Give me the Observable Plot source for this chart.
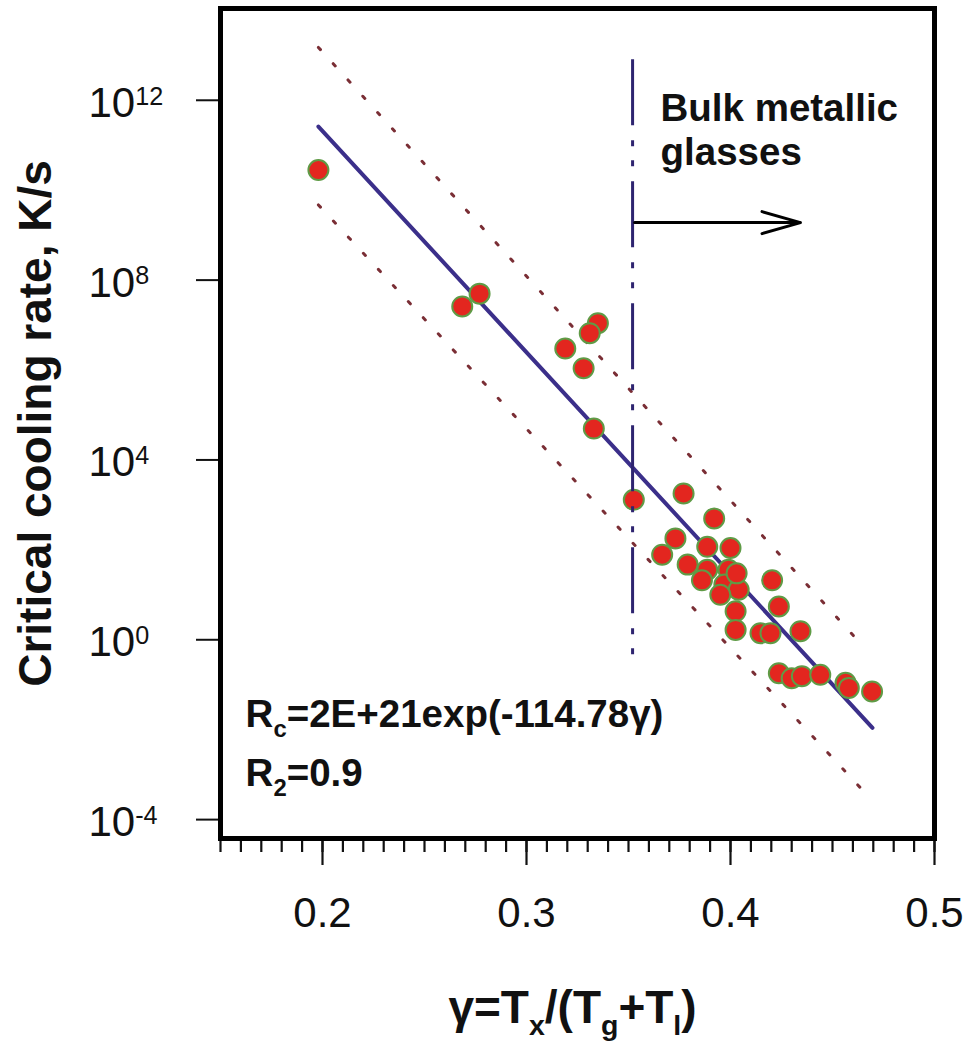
<!DOCTYPE html>
<html><head><meta charset="utf-8">
<script src="https://cdn.jsdelivr.net/npm/d3@7"></script>
<script src="https://cdn.jsdelivr.net/npm/@observablehq/plot@0.6"></script>
<style>
html,body{margin:0;padding:0;background:#fff;}
#chart svg{display:block;}
</style></head><body><div id="chart"></div>
<script>
// ---- data ----
const gamma = [0.198, 0.2685, 0.277, 0.319, 0.335, 0.331, 0.328, 0.333, 0.3526, 0.377,
  0.392, 0.373, 0.3665, 0.379, 0.3886, 0.400, 0.3886, 0.399, 0.386, 0.397,
  0.404, 0.395, 0.403, 0.4025, 0.4025, 0.4147, 0.4196, 0.4204, 0.4237, 0.4343,
  0.4237, 0.430, 0.435, 0.444, 0.4564, 0.458, 0.4694];
const rc = [2.8e10, 2.6e7, 5.0e7, 3.0e6, 1.1e7, 6.6e6, 1.1e6, 5.0e4, 1.3e3, 1.8e3,
  5.0e2, 1.8e2, 78, 47, 117, 110, 36, 36, 21, 17,
  13, 10, 30, 4.3, 1.66, 1.4, 1.4, 21, 5.5, 1.55,
  0.18, 0.14, 0.155, 0.166, 0.11, 0.085, 0.071];
const fitGamma = [0.198, 0.4696];
const fitRc = [2.6e11, 1.1e-2];
const upperGamma = [0.198, 0.4652];
const upperRc = [1.5e13, 0.70];
const lowerGamma = [0.198, 0.4637];
const lowerRc = [4.7e9, 5.1e-4];
const bmgGamma = [0.352];
const bmgRcRange = [8e12, 0.31];
const arrowGamma = [0.353, 0.4343];
const arrowRc = [1.9e9];
const xMajorTicks = [0.2, 0.3, 0.4, 0.5];
const xMinorTicks = [0.15,0.16,0.17,0.18,0.19,0.2,0.21,0.22,0.23,0.24,0.25,0.26,0.27,0.28,0.29,0.3,
  0.31,0.32,0.33,0.34,0.35,0.36,0.37,0.38,0.39,0.4,0.41,0.42,0.43,0.44,0.45,0.46,0.47,0.48,0.49,0.5];
const yTicks = [1e-4, 1, 1e4, 1e8, 1e12];
const yTickLabels = ["10^{-4}", "10^{0}", "10^{4}", "10^{8}", "10^{12}"];
const bulkLabel = ["Bulk metallic\nglasses"];
const bulkPos = [0.3657, 3.6e10];
const eqLabels = ["R_{c}=2E+21exp(-114.78γ)", "R_{2}=0.9"];
const eqPos = [[0.1623, 0.01167], [0.1623, 5.7e-4]];
const yTitle = "Critical cooling rate, K/s";
const xTitle = "γ=T_{x}/(T_{g}+T_{l})";

// ---- tables ----
const points = gamma.map((g, i) => ({g, rc: rc[i]}));
const fit = fitGamma.map((g, i) => ({g, rc: fitRc[i]}));
const upper = upperGamma.map((g, i) => ({g, rc: upperRc[i]}));
const lower = lowerGamma.map((g, i) => ({g, rc: lowerRc[i]}));
const bmg = bmgGamma.map(g => ({g, top: bmgRcRange[0], bottom: bmgRcRange[1]}));
const arrow = [{x1: arrowGamma[0], x2: arrowGamma[1], y: arrowRc[0]}];
const yTickData = yTicks.map((v, i) => ({v, label: yTickLabels[i]}));
const eqData = eqLabels.map((t, i) => ({t, g: eqPos[i][0], rc: eqPos[i][1]}));

const font = "Liberation Sans, Arial, Helvetica, sans-serif";

const chart = Plot.plot({
  width: 972, height: 1046,
  marginLeft: 220, marginRight: 38, marginTop: 8, marginBottom: 208,
  style: {fontFamily: font, background: "white", color: "#111"},
  x: {domain: [0.15, 0.5]},
  y: {type: "log", domain: [3.8e-5, 1.1e14]},
  marks: [
    Plot.axisX(xMinorTicks, {tickSize: 14, tickFormat: () => "", strokeWidth: 2.2, label: null}),
    Plot.axisX(xMajorTicks, {tickSize: 27, tickFormat: () => "", strokeWidth: 2.2, label: null}),
    Plot.axisY(yTicks, {tickSize: 24, tickFormat: () => "", strokeWidth: 2, label: null}),
    Plot.line(upper, {x: "g", y: "rc", stroke: "#7a2e35", strokeWidth: 3, strokeDasharray: "3,19"}),
    Plot.line(lower, {x: "g", y: "rc", stroke: "#7a2e35", strokeWidth: 3, strokeDasharray: "3,19"}),
    Plot.line(fit, {x: "g", y: "rc", stroke: "#3b2f8a", strokeWidth: 4}),
    Plot.dot(points, {x: "g", y: "rc", r: 10, fill: "#e3261f", stroke: "#5f9b46", strokeWidth: 2}),
    Plot.ruleX(bmg, {x: "g", y1: "top", y2: "bottom", stroke: "#2e2470", strokeWidth: 3,
      strokeDasharray: "66,15,6,14,6,15"}),
    Plot.arrow(arrow, {x1: "x1", x2: "x2", y1: "y", y2: "y", stroke: "black", strokeWidth: 3,
      headLength: 20, headAngle: 32}),
    Plot.text(bulkLabel, {x: () => bulkPos[0], y: () => bulkPos[1], text: d => d, textAnchor: "start",
      lineAnchor: "bottom", lineHeight: 1.14, fontSize: 38.5, fontWeight: "bold", fill: "#111"}),
    Plot.text(eqData, {x: "g", y: "rc", text: "t", textAnchor: "start", lineAnchor: "bottom",
      fontSize: 38.5, fontWeight: "bold", fill: "#111"}),
    Plot.text(yTickData, {y: "v", text: "label", frameAnchor: "left", dx: -132, dy: 3,
      textAnchor: "start", fontSize: 42, fill: "#111"}),
    Plot.text(xMajorTicks, {x: d => d, text: d => d.toFixed(1), frameAnchor: "bottom", dy: 59,
      lineAnchor: "top", fontSize: 42, fill: "#111"}),
    Plot.text([yTitle], {text: d => d, frameAnchor: "left", dx: -170, rotate: -90,
      textAnchor: "middle", lineAnchor: "bottom", fontSize: 46, fontWeight: "bold", fill: "#111"}),
    Plot.text([xTitle], {text: d => d, frameAnchor: "bottom", dy: 184, dx: -5,
      textAnchor: "middle", lineAnchor: "bottom", fontSize: 46, fontWeight: "bold", fill: "#111"}),
    Plot.frame({stroke: "black", strokeWidth: 5})
  ]
});
document.getElementById("chart").appendChild(chart);

// convert _{..} and ^{..} markers into real sub/superscript tspans
function richText(el) {
  const s = el.textContent;
  if (!/[_^]\{/.test(s)) return;
  const fs = parseFloat(getComputedStyle(el).fontSize);
  while (el.firstChild) el.removeChild(el.firstChild);
  const re = /([_^])\{([^}]*)\}/g;
  let last = 0, m, shift = 0;
  const add = (txt, kind) => {
    const ts = document.createElementNS("http://www.w3.org/2000/svg", "tspan");
    ts.textContent = txt;
    let target = 0, size = null;
    if (kind === "^") { target = -0.29 * fs; size = 0.6 * fs; }
    if (kind === "_") { target = 0.28 * fs; size = 0.62 * fs; }
    const d = target - shift;
    if (d) ts.setAttribute("dy", d);
    shift = target;
    if (size) ts.setAttribute("font-size", size);
    el.appendChild(ts);
  };
  while ((m = re.exec(s))) {
    if (m.index > last) add(s.slice(last, m.index), null);
    add(m[2], m[1]);
    last = re.lastIndex;
  }
  if (last < s.length) add(s.slice(last), null);
}
chart.querySelectorAll("text").forEach(t => {
  if (t.children.length === 0) richText(t);
});
</script></body></html>
